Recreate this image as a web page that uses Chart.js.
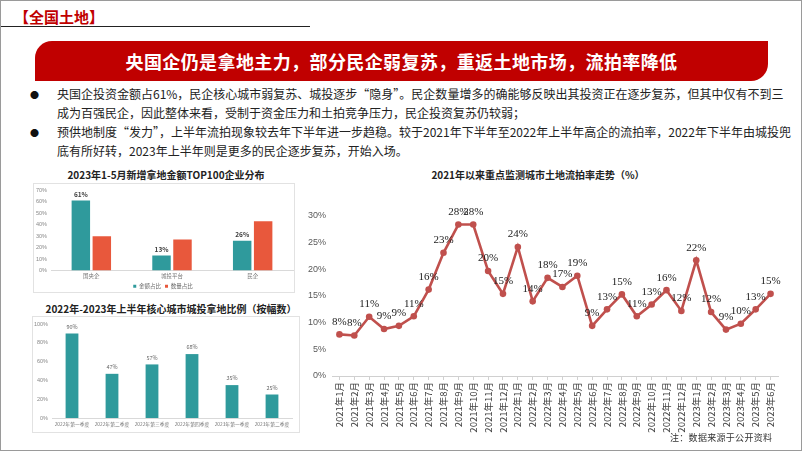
<!DOCTYPE html>
<html>
<head>
<meta charset="utf-8">
<script src="https://cdn.jsdelivr.net/npm/chart.js@4.4.1/dist/chart.umd.min.js"></script>
<style>
  body { margin: 0; width: 802px; height: 451px; position: relative; background: #fff; overflow: hidden;
         font-family: "Noto Sans CJK SC", "Noto Sans", sans-serif; }
  .abs { position: absolute; }
  .frame { left: 0; top: 0; width: 800px; height: 449px; border: 1px solid #9a9a9a; }
  .tag { left: 14px; top: 6px; font-size: 15px; font-weight: 700; color: #c00000; }
  .rule { left: 1px; top: 26px; width: 309px; height: 0; border-top: 1.5px solid #222; }
  .banner { left: 35px; top: 41px; width: 733px; height: 40px; background: #c00000;
            border-radius: 17px 0 17px 0; color: #fff; font-size: 18px; font-weight: 700;
            line-height: 40px; text-align: center; letter-spacing: 0.4px; }
  .dot { left: 30px; font-size: 9px; color: #111; }
  .line { left: 57px; width: 715px; font-size: 12px; color: #222; white-space: nowrap;
          text-align: justify; text-align-last: justify; line-height: 14px; }
  .line.short { text-align-last: left; }
  .ctitle { font-size: 10px; font-weight: 700; color: #222; white-space: nowrap; transform: translateX(-50%); }
  .box { border: 1px solid #e2e2e2; }
  .note { left: 670px; top: 431px; font-size: 9px; color: #333; letter-spacing: 0.3px; }
</style>
</head>
<body>
<div class="abs frame"></div>
<div class="abs tag">【全国土地】</div>
<div class="abs rule"></div>
<div class="abs banner">央国企仍是拿地主力，部分民企弱复苏，重返土地市场，流拍率降低</div>

<div class="abs dot" style="top:88px">●</div>
<div class="abs line" style="top:87px">央国企投资金额占61%，民企核心城市弱复苏、城投逐步“隐身”。民企数量增多的确能够反映出其投资正在逐步复苏，但其中仅有不到三</div>
<div class="abs line short" style="top:106px">成为百强民企，因此整体来看，受制于资金压力和土拍竞争压力，民企投资复苏仍较弱；</div>
<div class="abs dot" style="top:126px">●</div>
<div class="abs line" style="top:125px">预供地制度“发力”，上半年流拍现象较去年下半年进一步趋稳。较于2021年下半年至2022年上半年高企的流拍率，2022年下半年由城投兜</div>
<div class="abs line short" style="top:144px">底有所好转，2023年上半年则是更多的民企逐步复苏，开始入场。</div>

<div class="abs ctitle" style="left:166px;top:167px">2023年1-5月新增拿地金额TOP100企业分布</div>
<div class="abs box" style="left:33px;top:183px;width:260px;height:108px"></div>
<canvas id="c1" class="abs" style="left:33px;top:183px" width="261" height="116"></canvas>

<div class="abs ctitle" style="left:171px;top:301px">2022年-2023年上半年核心城市城投拿地比例（按幅数）</div>
<div class="abs box" style="left:32px;top:316px;width:266px;height:115px"></div>
<canvas id="c2" class="abs" style="left:32px;top:316px" width="266" height="115"></canvas>

<div class="abs ctitle" style="left:538px;top:167px">2021年以来重点监测城市土地流拍率走势（%）</div>
<canvas id="c3" class="abs" style="left:300px;top:188px" width="492" height="250"></canvas>

<div class="abs note">注：数据来源于公开资料</div>

<script>
// top-left: TOP100 companies by new land spend, Jan-May 2023
const companyTypes = ['国央企', '城投平台', '民企'];
const amountShare = [61, 13, 26];
const countShare = [30, 27, 43];

// bottom-left: LGFV share of core-city land parcels by quarter
const quarters = ['2022年第一季度', '2022年第二季度', '2022年第三季度', '2022年第四季度', '2023年第一季度', '2023年第二季度'];
const lgfvShare = [90, 47, 57, 68, 35, 25];

// right: monthly failed-auction rate since 2021
const months = [
  '2021年1月', '2021年2月', '2021年3月', '2021年4月', '2021年5月', '2021年6月',
  '2021年7月', '2021年8月', '2021年9月', '2021年10月', '2021年11月', '2021年12月',
  '2022年1月', '2022年2月', '2022年3月', '2022年4月', '2022年5月', '2022年6月',
  '2022年7月', '2022年8月', '2022年9月', '2022年10月', '2022年11月', '2022年12月',
  '2023年1月', '2023年2月', '2023年3月', '2023年4月', '2023年5月', '2023年6月',
];
const failRate = [
  7.8, 7.6, 11.1, 8.8, 9.4, 11.2,
  16.2, 23.1, 28.4, 28.4, 19.7, 15.4,
  24.2, 14.0, 18.4, 16.7, 18.8, 9.4,
  12.5, 15.3, 11.2, 13.4, 16.1, 12.2,
  21.7, 12.0, 8.7, 9.8, 12.5, 15.4,
];

const TEAL = '#2f9a9c';
const ORANGE = '#e8583c';
const RED = '#c0504d';

// draws "NN%" above bars/points of datasets flagged with showLabels
const valueLabels = {
  id: 'valueLabels',
  afterDatasetsDraw(chart, args, opts) {
    const { ctx } = chart;
    chart.data.datasets.forEach((ds, i) => {
      if (!ds.showLabels) return;
      const meta = chart.getDatasetMeta(i);
      ctx.save();
      ctx.font = opts.font;
      ctx.fillStyle = opts.color;
      ctx.textAlign = 'center';
      ctx.textBaseline = 'bottom';
      meta.data.forEach((el, j) => ctx.fillText(Math.round(ds.data[j]) + '%', el.x, el.y - opts.offset));
      ctx.restore();
    });
  },
};

const pct = (v) => v + '%';
const tiny = { family: '"Noto Sans CJK SC", sans-serif', size: 5.5 };
const axisTiny = { family: '"Liberation Sans", sans-serif', size: 5.5 };
const noGrid = { display: false, drawTicks: false };

new Chart(document.getElementById('c1'), {
  type: 'bar',
  data: {
    labels: companyTypes,
    datasets: [
      { label: '金额占比', data: amountShare, backgroundColor: TEAL, showLabels: true },
      { label: '数量占比', data: countShare, backgroundColor: ORANGE },
    ],
  },
  options: {
    responsive: false,
    animation: false,
    layout: { padding: { top: 6, right: 1, left: 0, bottom: 0 } },
    datasets: { bar: { categoryPercentage: 0.52, barPercentage: 0.88 } },
    plugins: {
      legend: {
        position: 'bottom',
        labels: { boxWidth: 3, boxHeight: 3, padding: 4, font: tiny, color: '#666' },
      },
      tooltip: { enabled: false },
      valueLabels: { font: 'bold 6.5px "Noto Sans CJK SC"', color: '#404040', offset: 3 },
    },
    scales: {
      y: {
        min: 0, max: 70,
        ticks: { stepSize: 10, callback: pct, font: axisTiny, color: '#888', padding: 4 },
        grid: noGrid,
        border: { display: false },
        afterFit: (s) => { s.width = 18; },
      },
      x: {
        ticks: { font: tiny, color: '#777', padding: 2 },
        grid: noGrid,
        border: { color: '#d9d9d9' },
        afterFit: (s) => { s.height = 9; },
      },
    },
  },
  plugins: [valueLabels],
});

new Chart(document.getElementById('c2'), {
  type: 'bar',
  data: {
    labels: quarters,
    datasets: [{ label: '城投占比', data: lgfvShare, backgroundColor: TEAL, showLabels: true }],
  },
  options: {
    responsive: false,
    animation: false,
    layout: { padding: { top: 8, right: 6, left: 0, bottom: 0 } },
    datasets: { bar: { categoryPercentage: 1, barPercentage: 0.32 } },
    plugins: {
      legend: { display: false },
      tooltip: { enabled: false },
      valueLabels: { font: '5.5px "Noto Sans CJK SC"', color: '#666', offset: 4 },
    },
    scales: {
      y: {
        min: 0, max: 100,
        ticks: { stepSize: 10, callback: pct, font: axisTiny, color: '#888', padding: 4 },
        grid: noGrid,
        border: { display: false },
        afterFit: (s) => { s.width = 20; },
      },
      x: {
        ticks: { font: { family: '"Noto Sans CJK SC", sans-serif', size: 4.8 }, color: '#777', padding: 3, autoSkip: false, maxRotation: 0 },
        grid: noGrid,
        border: { color: '#d9d9d9' },
        afterFit: (s) => { s.height = 13; },
      },
    },
  },
  plugins: [valueLabels],
});

new Chart(document.getElementById('c3'), {
  type: 'line',
  data: {
    labels: months,
    datasets: [{
      label: '流拍率',
      data: failRate,
      borderColor: RED,
      backgroundColor: RED,
      borderWidth: 2.6,
      pointRadius: 3.3,
      pointBackgroundColor: RED,
      pointBorderWidth: 0,
      tension: 0,
      showLabels: true,
    }],
  },
  options: {
    responsive: false,
    animation: false,
    layout: { padding: { top: 28, right: 14, left: 0, bottom: 4 } },
    plugins: {
      legend: { display: false },
      tooltip: { enabled: false },
      valueLabels: { font: '11px "Liberation Serif", "Noto Sans CJK SC"', color: '#222', offset: 7 },
    },
    scales: {
      y: {
        min: 0, max: 30,
        ticks: { stepSize: 5, callback: pct, font: { family: '"Liberation Sans", sans-serif', size: 9 }, color: '#595959', padding: 6 },
        grid: noGrid,
        border: { display: false },
        afterFit: (s) => { s.width = 32; },
      },
      x: {
        offset: true,
        ticks: {
          autoSkip: false, minRotation: 90, maxRotation: 90, padding: 2,
          font: { family: '"Noto Sans CJK SC", sans-serif', size: 9.5 }, color: '#404040',
        },
        grid: { drawOnChartArea: false, drawTicks: true, tickLength: 4, color: '#d0d0d0' },
        border: { color: '#d0d0d0' },
        afterFit: (s) => { s.height = 58; },
      },
    },
  },
  plugins: [valueLabels],
});
</script>
</body>
</html>
